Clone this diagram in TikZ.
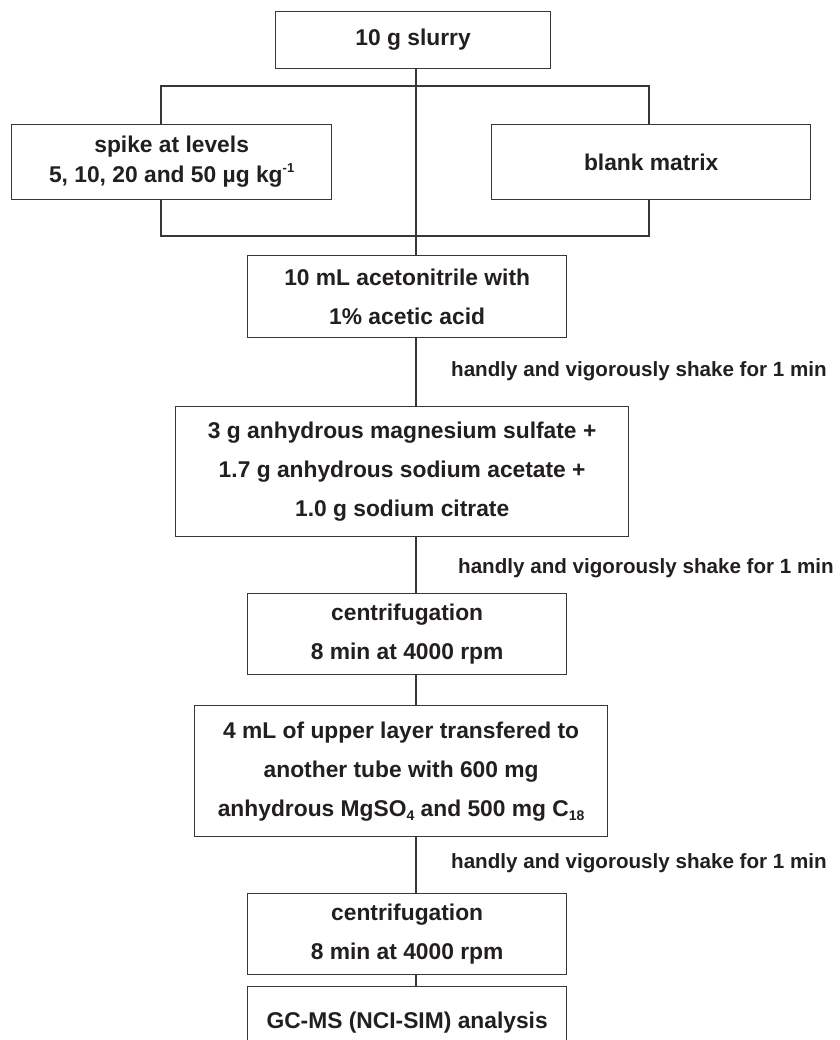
\documentclass[tikz,border=0pt]{standalone}
\usepackage{fontspec}
\setmainfont{Liberation Sans}
\definecolor{ink}{RGB}{35,31,32}
\definecolor{rule}{RGB}{55,55,55}
\newcommand{\lowsub}[1]{\raisebox{-0.35ex}{\fontsize{14}{14}\selectfont #1}}
\newcommand{\highsup}[1]{\raisebox{0.85ex}{\fontsize{13}{13}\selectfont #1}}
\tikzset{
  stepbox/.style={draw=rule, line width=1.3pt, rectangle, inner sep=0pt, anchor=north west,
    align=center, text=ink, font=\fontsize{22.8}{39}\selectfont\bfseries},
  link/.style={draw=rule, line width=1.3pt},
  note/.style={anchor=base west, inner sep=0pt, text=ink, font=\fontsize{20.6}{24}\selectfont\bfseries}
}
\begin{document}
\begin{tikzpicture}[x=1pt,y=-1pt]
\clip (0,0) rectangle (839,1040);
\fill[white] (0,0) rectangle (839,1040);
% boxes
\node[stepbox, minimum width=275, minimum height=57] (slurry) at (275,11) {10 g slurry};
\node[stepbox, minimum width=320, minimum height=75, font=\fontsize{22.8}{30}\selectfont\bfseries] (spike) at (11,124)
  {spike at levels\\5, 10, 20 and 50 µg kg\highsup{-1}};
\node[stepbox, minimum width=319, minimum height=75] (blank) at (491,124) {blank matrix};
\node[stepbox, minimum width=319, minimum height=82] (acet) at (247,255)
  {10 mL acetonitrile with\\1\% acetic acid};
\node[stepbox, minimum width=453, minimum height=130] (salts) at (175,406)
  {3 g anhydrous magnesium sulfate +\\1.7 g anhydrous sodium acetate +\\1.0 g sodium citrate};
\node[stepbox, minimum width=319, minimum height=81] (cent1) at (247,593)
  {centrifugation\\8 min at 4000 rpm};
\node[stepbox, minimum width=413, minimum height=131] (transfer) at (194,705)
  {4 mL of upper layer transfered to\\another tube with 600 mg\\anhydrous MgSO\lowsub{4} and 500 mg C\lowsub{18}};
\node[stepbox, minimum width=319, minimum height=81] (cent2) at (247,893)
  {centrifugation\\8 min at 4000 rpm};
\node[stepbox, minimum width=319, minimum height=71] (gcms) at (247,986)
  {GC-MS (NCI-SIM) analysis};
% spine and branch points
\coordinate (spine) at (416,0);
\coordinate (lbranch) at (161,0);
\coordinate (rbranch) at (649,0);
\coordinate (topsplit) at (0,86);
\coordinate (botjoin) at (0,236);
% connectors
\draw[link] (slurry.south -| spine) -- (acet.north -| spine);
\draw[link] (spike.north -| lbranch) -- (topsplit -| lbranch) -- (topsplit -| rbranch) -- (blank.north -| rbranch);
\draw[link] (spike.south -| lbranch) -- (botjoin -| lbranch) -- (botjoin -| rbranch) -- (blank.south -| rbranch);
\draw[link] (acet.south -| spine) -- (salts.north -| spine);
\draw[link] (salts.south -| spine) -- (cent1.north -| spine);
\draw[link] (cent1.south -| spine) -- (transfer.north -| spine);
\draw[link] (transfer.south -| spine) -- (cent2.north -| spine);
\draw[link] (cent2.south -| spine) -- (gcms.north -| spine);
% labels
\node[note] (shake1) at (451,376) {handly and vigorously shake for 1 min};
\node[note] (shake2) at (458,573) {handly and vigorously shake for 1 min};
\node[note] (shake3) at (451,868) {handly and vigorously shake for 1 min};
\end{tikzpicture}
\end{document}
